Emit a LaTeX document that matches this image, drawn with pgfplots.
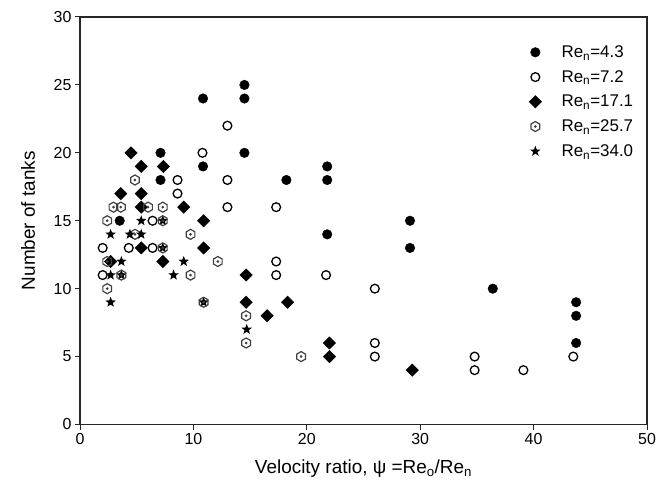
\documentclass[border=0pt]{standalone}
\usepackage{pgfplots}
\pgfplotsset{compat=1.18}
\usepackage{fontspec}
\setmainfont{Liberation Sans}

\pgfdeclareplotmark{hexdot}{%
  \pgfpathmoveto{\pgfpointpolar{90}{\pgfplotmarksize}}%
  \pgfpathlineto{\pgfpointpolar{150}{\pgfplotmarksize}}%
  \pgfpathlineto{\pgfpointpolar{210}{\pgfplotmarksize}}%
  \pgfpathlineto{\pgfpointpolar{270}{\pgfplotmarksize}}%
  \pgfpathlineto{\pgfpointpolar{330}{\pgfplotmarksize}}%
  \pgfpathlineto{\pgfpointpolar{30}{\pgfplotmarksize}}%
  \pgfpathclose
  \pgfusepathqstroke
  \pgfpathcircle{\pgfpointorigin}{0.3\pgfplotmarksize}%
  \pgfusepathqfill
}
\pgfdeclareplotmark{fstar}{%
  \pgfpathmoveto{\pgfpointpolar{90}{\pgfplotmarksize}}%
  \pgfpathlineto{\pgfpointpolar{126}{0.42\pgfplotmarksize}}%
  \pgfpathlineto{\pgfpointpolar{162}{\pgfplotmarksize}}%
  \pgfpathlineto{\pgfpointpolar{198}{0.42\pgfplotmarksize}}%
  \pgfpathlineto{\pgfpointpolar{234}{\pgfplotmarksize}}%
  \pgfpathlineto{\pgfpointpolar{270}{0.42\pgfplotmarksize}}%
  \pgfpathlineto{\pgfpointpolar{306}{\pgfplotmarksize}}%
  \pgfpathlineto{\pgfpointpolar{342}{0.42\pgfplotmarksize}}%
  \pgfpathlineto{\pgfpointpolar{18}{\pgfplotmarksize}}%
  \pgfpathlineto{\pgfpointpolar{54}{0.42\pgfplotmarksize}}%
  \pgfpathclose
  \pgfusepathqfill
}

\begin{document}
\begin{tikzpicture}
\path[use as bounding box] (-80bp,-59.5bp) rectangle (586bp,424.5bp);
\begin{axis}[
  at={(0,0)}, anchor=south west,
  scale only axis,
  width=567bp, height=407.5bp,
  xmin=0, xmax=50, ymin=0, ymax=30,
  xtick={0,10,...,50}, ytick={0,5,...,30},
  tick pos=left, tick align=outside,
  major tick length=5bp,
  axis line style={line width=1.2bp, black!85},
  every tick/.style={line width=1bp, black!85},
  tick label style={font=\fontsize{16}{19}\selectfont},
  /pgf/number format/assume math mode=true,
  xlabel={Velocity ratio, ψ =Re\textsubscript{o}/Re\textsubscript{n}},
  ylabel={Number of tanks},
  label style={font=\fontsize{19}{22}\selectfont},
  xlabel style={at={(axis description cs:0.5,-0.109)}, anchor=center},
  ylabel style={at={(axis description cs:-0.0917,0.5)}, anchor=center},
  legend cell align=left,
  legend style={draw=none, fill=none, at={(rel axis cs:0.783,0.94)}, anchor=north west,
    font=\fontsize{17}{20}\selectfont, row sep=7.5bp},
  legend image code/.code={\path (0bp,0bp) (32bp,0bp); \draw[#1] plot coordinates {(8bp,0bp)};},
]
\addplot[only marks, mark=*, mark size=4.8bp, black] coordinates {
(3.5,15) (7.1,20) (7.1,18) (10.85,24) (10.85,19) (14.5,25) (14.5,24) (14.5,20)
(18.2,18) (21.8,19) (21.8,18) (21.8,14) (29.1,15) (29.1,13) (36.4,10)
(43.75,9) (43.75,8) (43.75,6)};
\addlegendentry{Re\textsubscript{n}=4.3}
\addplot[only marks, mark=o, mark size=4.4bp, black, mark options={fill=white, line width=1.3bp}] coordinates {
(2.0,13) (2.0,11) (4.3,13) (6.4,15) (6.4,13) (8.6,18) (8.6,17) (10.8,20)
(13.0,22) (13.0,18) (13.0,16) (17.3,16) (17.3,12) (17.3,11) (21.7,11)
(26.0,10) (26.0,6) (26.0,5) (34.8,5) (34.8,4) (39.1,4) (43.5,5)};
\addlegendentry{Re\textsubscript{n}=7.2}
\addplot[only marks, mark=square*, mark size=4.4bp, black, mark options={rotate=45}] coordinates {
(4.5,20) (5.4,19) (7.35,19) (3.6,17) (5.4,17) (5.4,16) (9.15,16) (10.9,15)
(5.4,13) (10.9,13) (2.7,12) (7.3,12) (14.65,11) (14.65,9) (18.3,9) (16.5,8)
(22.0,6) (22.0,5) (29.3,4)};
\addlegendentry{Re\textsubscript{n}=17.1}
\addplot[forget plot, only marks, mark=fstar, mark size=5.5bp, black] coordinates {
(7.3,15) (7.3,13) (3.65,11) (10.9,9)};
\addplot[only marks, mark=hexdot, mark size=5bp, black!75, mark options={line width=1.2bp}] coordinates {
(4.85,18) (2.95,16) (3.6,16) (6.0,16) (7.3,16) (2.4,15) (7.3,15) (4.85,14)
(9.75,14) (7.3,13) (2.4,12) (12.15,12) (3.65,11) (9.75,11) (2.4,10)
(10.9,9) (14.65,8) (14.65,6) (19.5,5)};
\addlegendentry{Re\textsubscript{n}=25.7}
\addplot[only marks, mark=fstar, mark size=5.5bp, black] coordinates {
(5.4,15) (2.7,14) (4.4,14) (5.4,14) (3.65,12) (9.15,12) (2.7,11) (8.25,11)
(2.7,9) (14.7,7)};
\addlegendentry{Re\textsubscript{n}=34.0}
\end{axis}
\end{tikzpicture}
\end{document}
